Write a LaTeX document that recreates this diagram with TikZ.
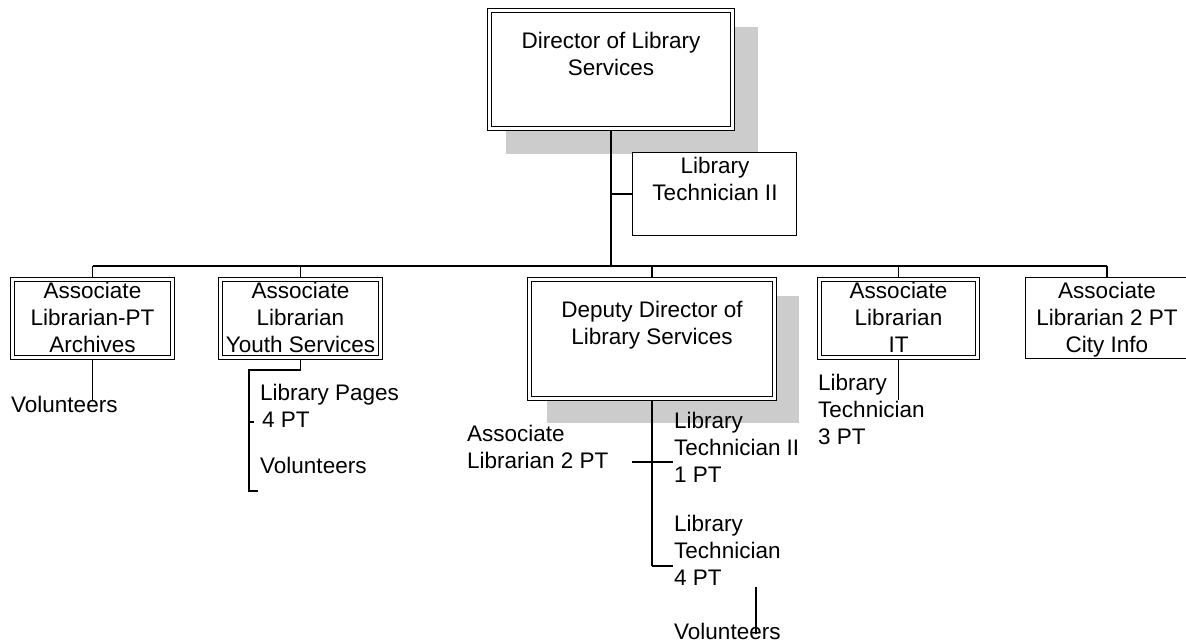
\documentclass[tikz,border=0pt]{standalone}
\usepackage{fontspec}
\setmainfont{Liberation Sans}
\usetikzlibrary{calc}
\pgfdeclarelayer{shadowlayer}
\pgfdeclarelayer{linelayer}
\pgfsetlayers{shadowlayer,linelayer,main}
\definecolor{shadowgray}{HTML}{CCCCCC}
\begin{document}
\begin{tikzpicture}[x=1pt,y=-1pt,
  every node/.style={font=\fontsize{22.5}{26.8}\selectfont},
  dbox/.style={draw, double, double distance=2.6pt, line width=1.2pt, fill=white, inner sep=0pt},
  sbox/.style={draw, line width=1.3pt, fill=white, inner sep=0pt},
  lbl/.style={inner sep=0pt, align=center, anchor=base},
  ltext/.style={inner sep=0pt, align=left, anchor=base west},
  conn/.style={line width=1.3pt},
  trunk/.style={line width=2pt},
  shade/.style={fill=shadowgray}]
\useasboundingbox (0,0) rectangle (1186,642);
\clip (0,0) rectangle (1186,642);

% boxes
\node[dbox, minimum width=243pt, minimum height=118pt] (dir) at (611,69.5) {};
\node[sbox, minimum width=164pt, minimum height=83pt] (lt2) at (714.5,194) {};
\node[dbox, minimum width=160pt, minimum height=78pt] (arch) at (92.5,318.5) {};
\node[dbox, minimum width=160pt, minimum height=78pt] (youth) at (300.5,318.5) {};
\node[dbox, minimum width=245pt, minimum height=119pt] (dep) at (652,339) {};
\node[dbox, minimum width=158pt, minimum height=78pt] (it) at (898.5,318.5) {};
\node[sbox, minimum width=163pt, minimum height=81pt] (city) at (1107,318) {};

% box labels (base = baseline of last line)
\node[lbl] (dirt) at (611,75) {Director of Library\\Services};
\node[lbl] (lt2t) at (715,200) {Library\\Technician II};
\node[lbl] (archt) at (92.5,352) {Associate\\Librarian-PT\\Archives};
\node[lbl] (youtht) at (300.5,352) {Associate\\Librarian\\Youth Services};
\node[lbl] (dept) at (652,344) {Deputy Director of\\Library Services};
\node[lbl] (itt) at (898.5,352) {Associate\\Librarian\\IT};
\node[lbl] (cityt) at (1107,352) {Associate\\Librarian 2 PT\\City Info};

% free text entries
\node[ltext] (vol1) at (11,412) {Volunteers};
\node[ltext] (lp) at (260,427) {Library Pages\\\hspace{2pt}4 PT};
\node[ltext] (yvol) at (260,473) {Volunteers};
\node[ltext] (it3) at (818,444) {Library\\Technician\\3 PT};
\node[ltext] (al2) at (467,468) {Associate\\Librarian 2 PT};
\node[ltext] (lt1) at (674,482) {Library\\Technician II\\1 PT};
\node[ltext] (lt4) at (674,585) {Library\\Technician\\4 PT};
\node[ltext] (vol3) at (674,639) {Volunteers};

% shadows
\begin{pgfonlayer}{shadowlayer}
\fill[shade] ($(dir.north west)+(17.5,17.5)$) rectangle ($(dir.south east)+(24.5,24.5)$);
\fill[shade] ($(dep.north west)+(18.5,17.5)$) rectangle ($(dep.south east)+(23.5,23.5)$);
\end{pgfonlayer}

% connectors
\begin{pgfonlayer}{linelayer}
\coordinate (busL) at (93,266);
\coordinate (busR) at (1107,266);
\draw[conn] (busL) -- (busR);
\draw[trunk] (dir.south) -- (dir.south |- busL);
\draw[conn] (lt2.west) -- (lt2.west -| dir.south);
\foreach \n in {arch,youth,dep,it,city} \draw[conn] (\n.north) -- (\n.north |- busL);
% archives
\coordinate (archEnd) at (92.5,400);
\draw[conn] (arch.south) -- (archEnd);
% youth services
\coordinate (yElbow) at (249,370);
\coordinate (yTickA) at (249,422);
\coordinate (yTickAEnd) at (254,422);
\coordinate (yBottom) at (249,491);
\coordinate (yBottomEnd) at (258,491);
\draw[conn] (youth.south) |- (yElbow) -- (yBottom) -- (yBottomEnd);
\draw[conn] (yTickA) -- (yTickAEnd);
% IT
\coordinate (itEnd) at (898.5,400);
\draw[conn] (it.south) -- (itEnd);
% deputy
\coordinate (dCorner) at (652,566);
\coordinate (dEnd) at (673,566);
\draw[trunk] (dep.south) -- (dCorner);
\draw[conn] (dCorner) -- (dEnd);
\coordinate (crossL) at (632,462);
\coordinate (crossR) at (673,462);
\draw[conn] (crossL) -- (crossR);
% volunteers (deputy)
\coordinate (vTop) at (756,587);
\coordinate (vBot) at (756,634);
\draw[conn] (vTop) -- (vBot);
\end{pgfonlayer}
\end{tikzpicture}
\end{document}
